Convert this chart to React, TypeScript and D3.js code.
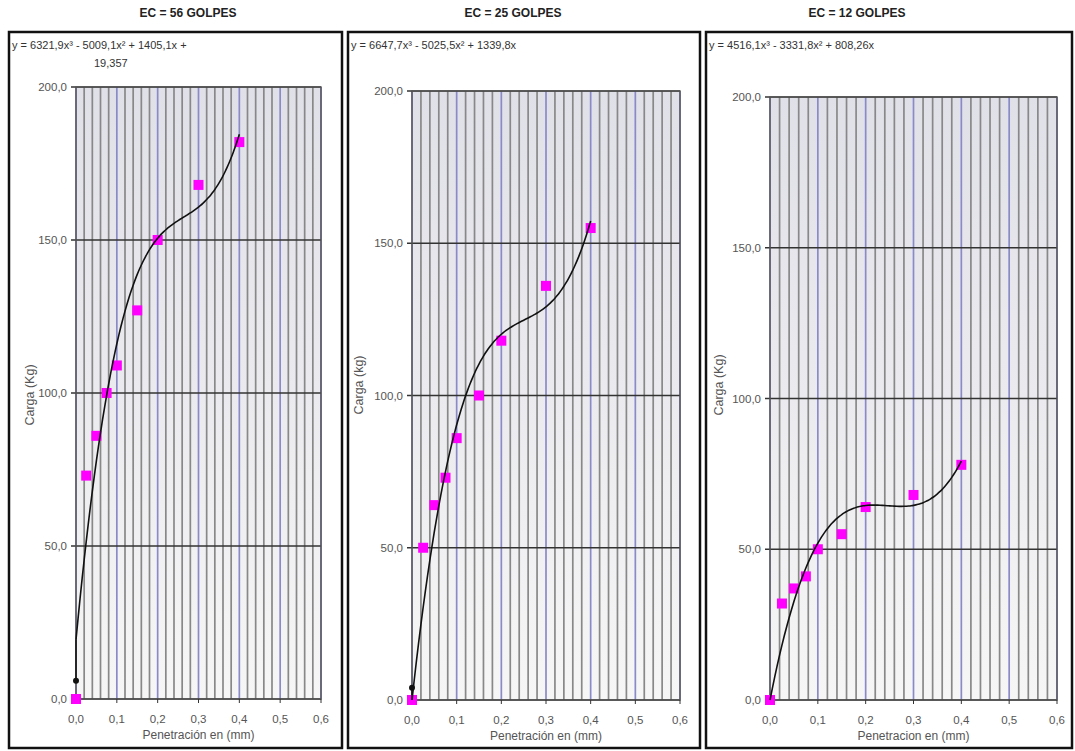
import React from "react";
import * as d3 from "d3";

// penetration values (mm) shared by all three tests
const penetration = [0, 0.025, 0.05, 0.075, 0.1, 0.15, 0.2, 0.3, 0.4];

const titles = ["EC = 56 GOLPES", "EC = 25 GOLPES", "EC = 12 GOLPES"];
const load56 = [0, 73, 86, 100, 109, 127, 150, 168, 182];
const load25 = [0, 50, 64, 73, 86, 100, 118, 136, 155];
const load12 = [0, 32, 37, 41, 50, 55, 64, 68, 78];

// trendline coefficients [a3, a2, a1, a0] as printed on each chart
const coef56 = [6321.9, -5009.1, 1405.1, 19.357];
const coef25 = [6647.7, -5025.5, 1339.8, 0];
const coef12 = [4516.1, -3331.8, 808.26, 0];
const eqLines = [
  ["y = 6321,9x³ - 5009,1x² + 1405,1x +", "19,357"],
  ["y = 6647,7x³ - 5025,5x² + 1339,8x"],
  ["y = 4516,1x³ - 3331,8x² + 808,26x"],
];
const yLabels = ["Carga (Kg)", "Carga (kg)", "Carga (Kg)"];
const xLabels = ["Penetración en (mm)", "Penetración en (mm)", "Penetracion en (mm)"];
// small black start marker of the trend series
const startDot = [6, 4, null];

const xTicks = [0, 0.1, 0.2, 0.3, 0.4, 0.5, 0.6];
const yTicks = [0, 50, 100, 150, 200];

const fmt = (v: number, d: number) => v.toFixed(d).replace(".", ",");

const panels = [
  { box: [9, 32, 342, 748], plot: [76, 87, 321, 699], titleX: 188, yLabX: 34, yLabY: 395, loads: load56, coef: coef56 },
  { box: [348, 32, 700, 748], plot: [412, 91, 680, 700], titleX: 513, yLabX: 363, yLabY: 385, loads: load25, coef: coef25 },
  { box: [706, 32, 1072, 748], plot: [770, 97, 1057, 700], titleX: 857, yLabX: 723, yLabY: 385, loads: load12, coef: coef12 },
];

const font = "'Liberation Sans', Arial, sans-serif";

function Panel({ p, i }: { p: any; i: number }) {
  const [l, t, r, b] = p.plot;
  const x = d3.scaleLinear().domain([0, 0.6]).range([l, r]);
  const y = d3.scaleLinear().domain([0, 200]).range([b, t]);
  const minor = d3.range(0, 0.6001, 0.02);
  const poly = (v: number) => p.coef[0] * v ** 3 + p.coef[1] * v ** 2 + p.coef[2] * v + p.coef[3];
  const xs = d3.range(0, 0.4001, 0.005);
  const line = d3.line<number>().x((v) => x(v)).y((v) => y(poly(v))).curve(d3.curveMonotoneX);
  const [bx0, by0, bx1, by1] = p.box;
  const dot = startDot[i];
  return (
    <g>
      <text x={p.titleX} y={17} textAnchor="middle" fontSize={12} fontWeight="bold" fill="#222" fontFamily={font}>
        {titles[i]}
      </text>
      <rect x={bx0} y={by0} width={bx1 - bx0} height={by1 - by0} fill="#fff" stroke="#111" strokeWidth={2.5} />
      {eqLines[i].map((s, k) => (
        <text key={k} x={k === 0 ? bx0 + 3 : bx0 + 85} y={49 + k * 18} fontSize={11} fill="#333" fontFamily={font}>
          {s}
        </text>
      ))}
      <rect x={l} y={t} width={r - l} height={b - t} fill={`url(#bg${i})`} />
      {minor.map((v, k) => (
        <line key={k} x1={x(v)} x2={x(v)} y1={t} y2={b}
          stroke={k % 5 === 0 ? "#8a8ac8" : "#888"} strokeWidth={1.7} />
      ))}
      {yTicks.map((v) => (
        <g key={v}>
          <line x1={l - 5} x2={r} y1={y(v)} y2={y(v)} stroke="#333" strokeWidth={1.4} />
          <text x={l - 9} y={y(v) + 4} textAnchor="end" fontSize={11.5} fill="#555" fontFamily={font}>
            {fmt(v, 1)}
          </text>
        </g>
      ))}
      <rect x={l} y={t} width={r - l} height={b - t} fill="none" stroke="#555" strokeWidth={1.4} />
      {xTicks.map((v) => (
        <g key={v}>
          <line x1={x(v)} x2={x(v)} y1={b} y2={b + 4} stroke="#333" />
          <text x={x(v)} y={b + 24} textAnchor="middle" fontSize={11.5} fill="#555" fontFamily={font}>
            {fmt(v, 1)}
          </text>
        </g>
      ))}
      <text x={(l + r) / 2} y={b + 40} textAnchor="middle" fontSize={12} fill="#555" fontFamily={font}>
        {xLabels[i]}
      </text>
      <text transform={`translate(${p.yLabX},${p.yLabY}) rotate(-90)`} textAnchor="middle" fontSize={12.5} fill="#555" fontFamily={font}>
        {yLabels[i]}
      </text>
      {penetration.map((v, k) => (
        <rect key={k} x={x(v) - 5} y={y(p.loads[k]) - 5} width={10} height={10} fill="#ff00ff" />
      ))}
      {dot !== null && (
        <g>
          <line x1={x(0)} x2={x(0)} y1={y(dot)} y2={y(poly(0))} stroke="#111" strokeWidth={1.5} />
          <circle cx={x(0)} cy={y(dot)} r={3} fill="#111" />
        </g>
      )}
      <path d={line(xs) || ""} fill="none" stroke="#111" strokeWidth={1.6} />
    </g>
  );
}

export default function App() {
  return (
    <svg width={1075} height={751} style={{ position: "absolute", left: 0, top: 0 }}>
      <defs>
        {panels.map((_, i) => (
          <linearGradient key={i} id={`bg${i}`} x1="0" y1="0" x2="0" y2="1">
            <stop offset="0%" stopColor="#e0e0e8" />
            <stop offset="100%" stopColor="#f6f6f6" />
          </linearGradient>
        ))}
      </defs>
      <rect width={1075} height={751} fill="#fff" />
      {panels.map((p, i) => (
        <Panel key={i} p={p} i={i} />
      ))}
    </svg>
  );
}
